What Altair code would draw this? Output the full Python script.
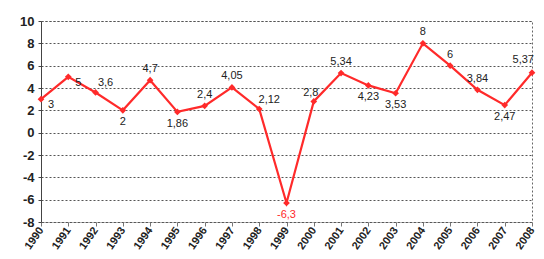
import altair as alt
import pandas as pd

years = [str(y) for y in range(1990, 2009)]
values = [3, 5, 3.6, 2, 4.7, 1.86, 2.4, 4.05, 2.12, -6.3, 2.8, 5.34, 4.23, 3.53, 8, 6, 3.84, 2.47, 5.37]
labels = ["3", "5", "3,6", "2", "4,7", "1,86", "2,4", "4,05", "2,12", "-6,3", "2,8", "5,34",
          "4,23", "3,53", "8", "6", "3,84", "2,47", "5,37"]
placement = ["right", "right", "aboveright", "below", "above", "below", "above", "above",
             "aboveright", "belowred", "aboveleft", "above", "below", "below", "above", "above",
             "above", "below", "edge"]

df = pd.DataFrame({"year": years, "value": values, "label": labels, "pos": placement})

FONT = "Liberation Sans"

x = alt.X("year:O", scale=alt.Scale(type="point", padding=0),
          axis=alt.Axis(title=None, labelAngle=-55, labelAlign="right", labelBaseline="middle",
                        labelFont=FONT, labelFontSize=11, labelFontWeight="bold", labelColor="#222",
                        domain=False, tickColor="#777", tickSize=4, labelPadding=2, grid=False))
y = alt.Y("value:Q", scale=alt.Scale(domain=[-8, 10], nice=False),
          axis=alt.Axis(title=None, values=list(range(-8, 11, 2)), labelFont=FONT,
                        labelExpr="'' + datum.value",
                        labelFontSize=13, labelFontWeight="bold", labelColor="#222",
                        grid=True, gridColor="#555", gridDash=[2, 2], gridWidth=1,
                        domain=True, domainColor="#444", tickSize=3, tickColor="#444",
                        labelPadding=4))

base = alt.Chart(df)

line = base.mark_line(color="#ff2a2a", strokeWidth=2.2).encode(x=x, y=y)
pts = base.mark_point(shape="diamond", filled=True, color="#ff2a2a", size=45, opacity=1).encode(x=x, y=y)

def txt(pos, dx, dy, align="center", color="#222"):
    return base.transform_filter(alt.datum.pos == pos).mark_text(
        font=FONT, fontSize=11, color=color, dx=dx, dy=dy, align=align
    ).encode(x=x, y=y, text="label:N")

texts = [
    txt("right", 7, 6, "left"),
    txt("aboveright", 10, -9),
    txt("above", 0, -11),
    txt("aboveleft", -3, -8),
    txt("below", 0, 12),
    txt("belowred", 0, 12, color="#ff2a2a"),
    txt("edge", 2, -13, "right"),
]

chart = alt.layer(line, pts, *texts).properties(
    width=491, height=201,
    autosize=alt.AutoSizeParams(type="none"),
    padding={"left": 33, "top": 13, "right": 4, "bottom": 29},
).configure_view(stroke="#666", strokeDash=[2, 2], strokeWidth=1)

chart.save("out.html", embed_options={"renderer": "svg", "actions": False})
